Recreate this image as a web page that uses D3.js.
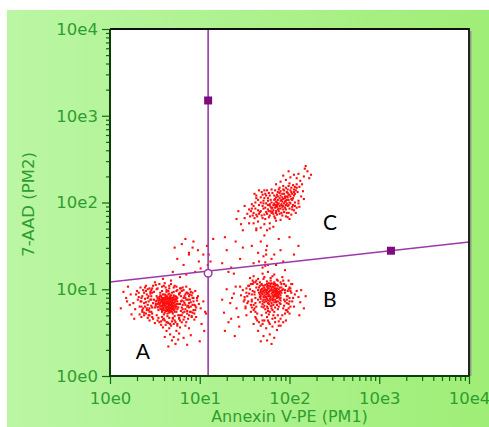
<!DOCTYPE html>
<html>
<head>
<meta charset="utf-8">
<script src="https://cdn.jsdelivr.net/npm/d3@7"></script>
<style>
  html, body { margin: 0; padding: 0; background: #ffffff; }
  svg { display: block; }
</style>
</head>
<body>
<svg id="chart" width="489" height="427"></svg>
<script>
// ---- Axis decades and labels -------------------------------------------
const decadeValues = [1, 10, 100, 1000, 10000];
const decadeLabels = ["10e0", "10e1", "10e2", "10e3", "10e4"];
const xTitle = "Annexin V-PE (PM1)";
const yTitle = "7-AAD (PM2)";

// ---- Quadrant gate -------------------------------------------------------
const gateX = 12.4;                              // vertical marker (PM1)
const gateLine = [[1, 12.1], [10000, 35]];       // sloped marker (PM2)
const gateHandles = [[12.4, 1500], [1350, 27.8]];
const gateCross = [12.4, 15.3];

// ---- Quadrant labels -----------------------------------------------------
const regionLabels = ["A", "B", "C"];
const regionAnchors = [[2.33, 1.57], [282, 6.24], [282, 48.2]];

// ---- Events: flat pairs of (log10 PM1 x100, log10 PM2 x100) -------------
const viableEvents = [
  62,84, 66,81, 70,79, 58,88, 55,83, 64,76, 72,85, 68,90, 60,79, 51,86, 74,80, 67,74, 63,92, 57,77, 71,88,
  65,86, 59,82, 53,90, 69,83, 75,77, 61,73, 66,95, 54,80, 73,92, 62,88, 48,84, 70,72, 64,80, 56,93, 68,78,
  60,90, 72,82, 66,87, 58,74, 50,79, 63,83, 74,88, 67,81, 55,87, 71,76, 65,78, 59,94, 69,86, 61,81, 76,83,
  52,92, 64,89, 70,84, 57,81, 66,73, 62,78, 73,79, 49,88, 68,93, 60,85, 54,76, 71,91, 65,83, 58,90, 75,86,
  63,75, 67,88, 56,84, 72,77, 61,94, 69,80, 53,83, 66,84, 59,78, 74,74, 64,91, 70,87, 57,86, 62,81, 68,75,
  51,81, 73,89, 65,80, 60,76, 55,89, 71,84, 67,92, 63,86, 58,80, 76,79, 64,72, 69,90, 52,87, 66,78, 61,89,
  72,88, 57,92, 68,82, 54,85, 74,83, 62,75, 65,94, 59,87, 70,78, 63,79, 67,85, 56,78, 71,80, 60,82, 75,90,
  58,85, 66,90, 64,84, 69,77, 53,79, 73,86, 61,86, 68,88, 55,91, 62,93, 70,81, 65,75, 57,88, 72,74, 66,82,
  60,88, 74,91, 63,89, 59,84, 67,78, 51,83, 71,93, 64,86, 68,85, 56,81, 62,91, 73,81, 58,76, 69,74, 61,84,
  66,76, 54,88, 70,89, 65,89, 63,77,
  33,80, 36,92, 38,70, 40,98, 41,76, 43,86, 44,64, 45,95, 46,81, 47,72, 34,86, 37,78, 39,102, 42,90, 44,74,
  46,99, 35,68, 38,84, 41,94, 43,70, 45,88, 47,96, 36,74, 39,80, 42,100, 44,78, 46,92, 32,96, 35,90, 40,72,
  77,94, 78,70, 79,86, 80,98, 81,77, 82,90, 83,68, 84,82, 85,96, 86,75, 87,88, 88,70, 89,100, 90,80, 91,93,
  92,73, 93,86, 94,65, 95,98, 96,79, 77,66, 79,92, 81,102, 83,74, 85,62, 87,81, 89,94, 91,68, 93,90, 95,76,
  78,83, 80,79, 82,86, 84,90, 86,96, 88,84, 90,74, 92,96, 94,82, 97,90,
  48,66, 52,70, 55,62, 58,68, 61,64, 64,69, 67,60, 70,66, 73,62, 76,70, 50,61, 54,67, 57,59, 60,71, 63,62,
  66,67, 69,63, 72,69, 75,58, 78,64, 53,64, 59,65, 65,61, 71,60, 77,67,
  49,97, 53,101, 56,96, 60,104, 63,97, 66,101, 69,96, 72,104, 75,99, 78,101, 51,105, 58,98, 62,102, 65,98,
  68,106, 71,97, 74,103, 47,101,
  40,85, 43,92, 35,80, 46,74, 38,96, 44,101, 31,88, 47,68, 36,76, 42,82, 29,94, 45,97, 33,71, 39,89, 48,104,
  26,84, 41,78, 37,99, 44,70, 32,91, 47,79, 28,77, 40,104, 35,86, 42,67, 38,73, 30,98, 46,88, 34,102, 43,76,
  81,82, 85,88, 79,75, 88,79, 83,92, 80,70, 86,72, 90,85, 78,96, 84,77, 92,90, 87,66, 82,99, 89,74, 95,81,
  80,87, 91,69, 84,94, 97,87, 86,80, 93,76, 79,101, 99,83, 88,92, 82,65, 94,72, 85,103, 101,78, 90,97, 96,68,
  83,84, 104,86, 87,95, 81,73, 98,92, 92,82, 106,74, 89,88,
  60,66, 64,62, 68,58, 72,64, 57,63, 75,60, 66,55, 70,67, 62,59, 78,56, 74,52, 67,48, 80,62, 59,56, 71,45,
  77,49, 84,58, 69,41, 63,52, 82,44, 88,55, 73,37, 90,47, 65,34, 76,42, 86,36, 61,45,
  52,100, 58,103, 66,104, 61,107, 71,102, 55,106, 74,98, 63,99, 68,110, 50,108, 77,95, 59,112,
  18,90, 22,82, 15,97, 24,71, 20,103, 12,78, 27,66, 19,86, 23,94,
  102,60, 105,52, 100,40, 107,72,
  0,84, 0,74, 0,50, 48,0, 70,0
];

const earlyApoptoticEvents = [
  178,92, 182,96, 174,99, 170,94, 186,90, 180,101, 176,87, 184,104, 172,102, 188,97, 168,89, 179,106, 183,85,
  175,95, 190,93, 171,98, 185,100, 177,83, 181,89, 166,96, 187,86, 173,105, 189,102, 180,95, 169,100, 184,92,
  176,78, 192,99, 174,91, 182,106, 167,104, 186,95, 178,98, 170,86, 188,91, 179,88, 172,96, 183,101, 175,103,
  190,87, 168,92, 185,97, 177,107, 181,93, 165,99, 187,104, 173,88, 180,84, 184,98, 171,91, 189,95, 176,101,
  182,88, 169,105, 186,101, 178,104, 174,97, 191,96, 167,91, 183,94, 179,99, 172,85, 187,93, 175,89, 180,107,
  185,86, 170,97, 188,100, 177,94, 181,103, 166,102, 184,88, 173,100, 190,98, 176,92, 182,99, 168,97, 186,105,
  179,91, 174,86, 189,89, 171,104, 183,97, 177,101, 185,93, 180,81, 169,95, 187,96, 175,99, 182,91, 172,93,
  178,89, 191,102, 184,106, 170,101, 176,96, 188,94, 181,87, 173,91, 186,98, 179,103, 167,94, 183,92, 175,106,
  190,90, 171,88, 185,95, 177,97, 180,99, 174,94, 189,97, 182,103, 168,99, 186,92, 178,86, 172,99, 184,101,
  176,104, 181,97,
  175,80, 181,76, 170,83, 186,82, 178,74, 173,77, 184,79, 167,85, 189,84, 177,71, 182,82, 171,79, 187,77,
  176,84, 180,78, 174,73, 185,85, 169,80, 183,74, 179,81, 188,80, 172,81, 176,75, 190,83,
  151,80, 153,92, 155,104, 157,74, 158,86, 159,98, 160,108, 161,78, 162,90, 163,102, 164,72, 152,96, 154,86,
  156,100, 158,94, 160,76, 162,84, 164,106, 150,88, 157,82, 159,106, 161,94, 163,80, 165,88,
  193,78, 194,88, 195,96, 196,104, 197,84, 198,74, 199,100, 200,90, 201,80, 202,106, 193,100, 195,86, 197,92,
  199,78, 201,98, 203,86, 194,106, 196,76, 198,98, 200,102,
  162,68, 166,62, 169,70, 172,64, 175,68, 178,60, 181,66, 184,62, 187,70, 190,66, 193,62, 164,64, 170,60,
  176,64, 182,70, 188,58,
  163,110, 167,108, 171,112, 175,109, 179,110, 183,108, 187,110, 191,106, 169,106, 181,115,
  155,95, 158,88, 152,101, 160,82, 150,91, 157,106, 153,84, 161,97, 148,99, 159,110, 151,78, 156,113, 162,74,
  149,86, 154,104, 146,93, 158,79, 160,115, 145,103, 152,70,
  195,99, 198,92, 200,86, 196,104, 202,96, 194,81, 199,110, 204,90, 197,76, 201,101, 206,94, 193,110, 199,83,
  208,98, 195,72, 203,106, 197,88, 205,80, 210,91, 200,72,
  163,66, 170,64, 177,62, 184,67, 168,58, 174,55, 181,57, 188,63, 165,52, 178,48, 186,53, 171,46, 192,70,
  160,60, 183,44, 175,41, 190,58, 168,40, 196,64, 180,37,
  165,112, 172,114, 179,113, 186,111, 170,118, 183,117, 176,120, 190,108, 162,108, 192,114,
  138,95, 134,84, 141,78, 130,100, 143,68, 136,90, 127,73, 140,103, 132,62, 125,88, 144,57, 139,46, 135,66,
  128,52, 212,85, 216,78, 213,99, 218,92, 211,70
];

const lateApoptoticEvents = [
  160,188, 164,184, 168,190, 172,186, 176,192, 180,188, 184,194, 188,190, 192,195, 196,192, 162,193, 166,187,
  170,182, 174,189, 178,185, 182,191, 186,186, 190,193, 194,189, 198,196, 165,191, 169,185, 173,194, 177,183,
  181,189, 185,196, 189,187, 193,192, 167,189, 171,193, 175,187, 179,195, 183,184, 187,192, 191,188, 195,194,
  163,186, 177,190, 181,194, 185,188, 189,196, 173,181, 178,197, 184,182, 192,185, 197,188, 200,193, 159,185,
  170,196, 186,197,
  180,200, 184,204, 188,199, 192,206, 196,202, 200,209, 204,205, 186,209, 190,213, 194,210, 198,215, 202,212,
  206,218, 182,197, 187,203, 191,198, 195,207, 199,203, 203,210, 207,214, 185,206, 189,211, 193,204, 197,212,
  201,207, 205,215, 179,203, 183,208, 188,215, 192,201, 196,217, 200,200, 204,220, 178,198, 190,208, 194,214,
  198,206, 202,217, 206,210, 208,221, 181,211, 185,201, 199,219, 203,203, 187,207, 193,219, 197,199, 201,214,
  176,205, 209,212, 184,214, 195,205, 189,217, 205,208, 200,222,
  188,193, 191,197, 194,199, 186,195, 183,199, 190,202, 196,197, 199,209, 202,204, 192,210, 197,207, 186,200,
  180,193, 176,197, 174,199, 171,202, 205,212, 208,217, 193,215, 187,212,
  162,200, 165,203, 168,206, 171,199, 174,208, 177,211, 163,208, 166,197, 169,212, 172,205, 175,214, 178,208,
  180,215, 176,202, 173,210,
  196,184, 199,188, 202,186, 205,191, 208,194, 200,181, 204,197, 207,188, 198,183, 210,199, 203,192, 206,200,
  157,190, 160,196, 156,184, 161,182, 158,193,
  185,190, 187,198, 189,205, 191,203, 195,201, 193,196, 197,203, 199,197, 201,199, 183,203, 182,187, 179,190,
  184,197, 198,211,
  212,225, 216,230, 210,233, 220,236, 214,221, 222,228, 218,242, 208,228, 224,232, 211,218, 215,213, 217,239,
  196,226, 201,229, 190,224, 205,232, 199,236, 185,221, 193,231,
  168,200, 163,205, 158,198, 155,192, 161,210, 170,209, 166,214, 153,187, 150,196, 172,214,
  165,178, 172,175, 178,176, 185,179, 160,176, 168,171, 175,168, 190,180, 182,172, 163,170,
  206,196, 210,202, 213,207, 211,195, 216,204, 203,195,
  150,182, 146,175, 155,176, 141,181, 148,168, 143,190
];

const scatteredEvents = [
  75,135, 82,128, 88,142, 95,120, 70,120, 85,117, 99,132, 92,148, 78,114, 104,140, 101,124,
  108,150, 110,140, 112,132, 115,158, 109,128,
  125,130, 130,145, 135,125, 140,155, 145,135, 128,160, 138,118, 148,148, 132,120,
  160,130, 165,142, 170,125, 175,150, 180,135, 185,128, 190,145, 195,122, 200,160, 172,162, 168,155, 178,170,
  188,158, 163,168, 158,150, 183,140, 176,128, 193,132, 205,140, 210,150, 166,132, 171,138,
  173,127, 173,131, 174,140, 174,145,
  72,148, 80,152, 88,140, 93,155, 98,145, 84,158
];

// ---- Layout --------------------------------------------------------------
const W = 489, H = 427;
const plot = { left: 110, right: 469, top: 29, bottom: 376 };
const axisGreen = "#0d6a0d";
const textGreen = "#2e9e2e";
const gatePurple = "#9a3aa6";
const handlePurple = "#7e0c80";
const fontFamily = "'DejaVu Sans', Verdana, sans-serif";

const svg = d3.select("#chart");

// Green panel with a soft left-to-right gradient
const defs = svg.append("defs");
const grad = defs.append("linearGradient").attr("id", "panelGrad")
  .attr("x1", "0%").attr("x2", "100%").attr("y1", "0%").attr("y2", "0%");
grad.append("stop").attr("offset", "0%").attr("stop-color", "#bbf6a4");
grad.append("stop").attr("offset", "100%").attr("stop-color", "#9fee77");

svg.append("rect").attr("x", 0).attr("y", 0).attr("width", W).attr("height", H).attr("fill", "#ffffff");
svg.append("rect").attr("x", 7).attr("y", 10).attr("width", W - 7).attr("height", H - 10)
  .attr("fill", "url(#panelGrad)");

defs.append("clipPath").attr("id", "plotClip").append("rect")
  .attr("x", plot.left).attr("y", plot.top)
  .attr("width", plot.right - plot.left).attr("height", plot.bottom - plot.top);

// ---- Scales --------------------------------------------------------------
const x = d3.scaleLog().domain([1, 10000]).range([plot.left, plot.right]);
const y = d3.scaleLog().domain([1, 10000]).range([plot.bottom, plot.top]);

const labelFor = v => decadeLabels[decadeValues.indexOf(v)];
const minorTicks = x.ticks().filter(v => !decadeValues.includes(v));

// Plot area
svg.append("rect").attr("x", plot.left).attr("y", plot.top)
  .attr("width", plot.right - plot.left).attr("height", plot.bottom - plot.top)
  .attr("fill", "#ffffff");

// ---- Events --------------------------------------------------------------
function toPairs(flat) {
  const out = [];
  for (let i = 0; i < flat.length; i += 2) out.push([10 ** (flat[i] / 100), 10 ** (flat[i + 1] / 100)]);
  return out;
}
const events = [viableEvents, earlyApoptoticEvents, lateApoptoticEvents, scatteredEvents].flatMap(toPairs);

const dot = 2.1;
svg.append("g").attr("clip-path", "url(#plotClip)")
  .selectAll("rect").data(events).join("rect")
  .attr("x", d => x(d[0]) - dot / 2)
  .attr("y", d => y(d[1]) - dot / 2)
  .attr("width", dot).attr("height", dot)
  .attr("fill", "#ff0d0d");

// ---- Gate lines ----------------------------------------------------------
const gateG = svg.append("g").attr("clip-path", "url(#plotClip)");
gateG.append("line")
  .attr("x1", x(gateX)).attr("x2", x(gateX))
  .attr("y1", y(10000)).attr("y2", y(1))
  .attr("stroke", gatePurple).attr("stroke-width", 1.6);
gateG.append("line")
  .attr("x1", x(gateLine[0][0])).attr("y1", y(gateLine[0][1]))
  .attr("x2", x(gateLine[1][0])).attr("y2", y(gateLine[1][1]))
  .attr("stroke", gatePurple).attr("stroke-width", 1.6);

svg.append("g").selectAll("rect").data(gateHandles).join("rect")
  .attr("x", d => x(d[0]) - 4).attr("y", d => y(d[1]) - 4)
  .attr("width", 8).attr("height", 8)
  .attr("fill", handlePurple);

svg.append("circle")
  .attr("cx", x(gateCross[0])).attr("cy", y(gateCross[1])).attr("r", 3.8)
  .attr("fill", "#ffffff").attr("stroke", gatePurple).attr("stroke-width", 1.5);

// ---- Frame ---------------------------------------------------------------
svg.append("line").attr("x1", plot.right + 1.8).attr("x2", plot.right + 1.8)
  .attr("y1", plot.top + 2).attr("y2", plot.bottom)
  .attr("stroke", "#8a8a8a").attr("stroke-width", 1.2);
svg.append("path")
  .attr("d", `M${plot.left},${plot.top}H${plot.right}V${plot.bottom}`)
  .attr("fill", "none").attr("stroke", "#101010").attr("stroke-width", 1.8);

// ---- Axes ----------------------------------------------------------------
function styleAxis(g) {
  g.select(".domain").remove();
  g.selectAll("line").attr("stroke", axisGreen).attr("stroke-width", 1.2);
  g.selectAll("text").attr("fill", textGreen)
    .attr("font-family", fontFamily).attr("font-size", 16.5);
}

// X axis
const xMajor = svg.append("g").attr("transform", `translate(0,${plot.bottom})`)
  .call(d3.axisBottom(x).tickValues(decadeValues).tickFormat(labelFor).tickSize(8).tickPadding(8))
  .call(styleAxis);
xMajor.selectAll("text").attr("dy", "0.71em").attr("y", 16);
svg.append("g").attr("transform", `translate(0,${plot.bottom})`)
  .call(d3.axisBottom(x).tickValues(minorTicks).tickFormat("").tickSize(5))
  .call(styleAxis);

// Y axis
svg.append("g").attr("transform", `translate(${plot.left},0)`)
  .call(d3.axisLeft(y).tickValues(decadeValues).tickFormat(labelFor).tickSize(8).tickPadding(4))
  .call(styleAxis);
svg.append("g").attr("transform", `translate(${plot.left},0)`)
  .call(d3.axisLeft(y).tickValues(minorTicks).tickFormat("").tickSize(4))
  .call(styleAxis);

// Axis lines drawn on top (left and bottom edges of the plot)
svg.append("path")
  .attr("d", `M${plot.left},${plot.top}V${plot.bottom}H${plot.right}`)
  .attr("fill", "none").attr("stroke", "#0a3f0a").attr("stroke-width", 2);

// Axis titles
svg.append("text").text(xTitle)
  .attr("x", (plot.left + plot.right) / 2).attr("y", 422)
  .attr("text-anchor", "middle").attr("fill", textGreen)
  .attr("font-family", fontFamily).attr("font-size", 16);
svg.append("text").text(yTitle)
  .attr("transform", `translate(34,${(plot.top + plot.bottom) / 2 + 2}) rotate(-90)`)
  .attr("text-anchor", "middle").attr("fill", textGreen)
  .attr("font-family", fontFamily).attr("font-size", 16.5);

// ---- Quadrant letters ----------------------------------------------------
svg.append("g").selectAll("text").data(regionLabels).join("text")
  .text(d => d)
  .attr("x", (d, i) => x(regionAnchors[i][0]))
  .attr("y", (d, i) => y(regionAnchors[i][1]))
  .attr("text-anchor", "middle")
  .attr("font-family", "Lato, 'Open Sans', sans-serif")
  .attr("font-size", 21)
  .attr("fill", "#000000");
</script>
</body>
</html>
